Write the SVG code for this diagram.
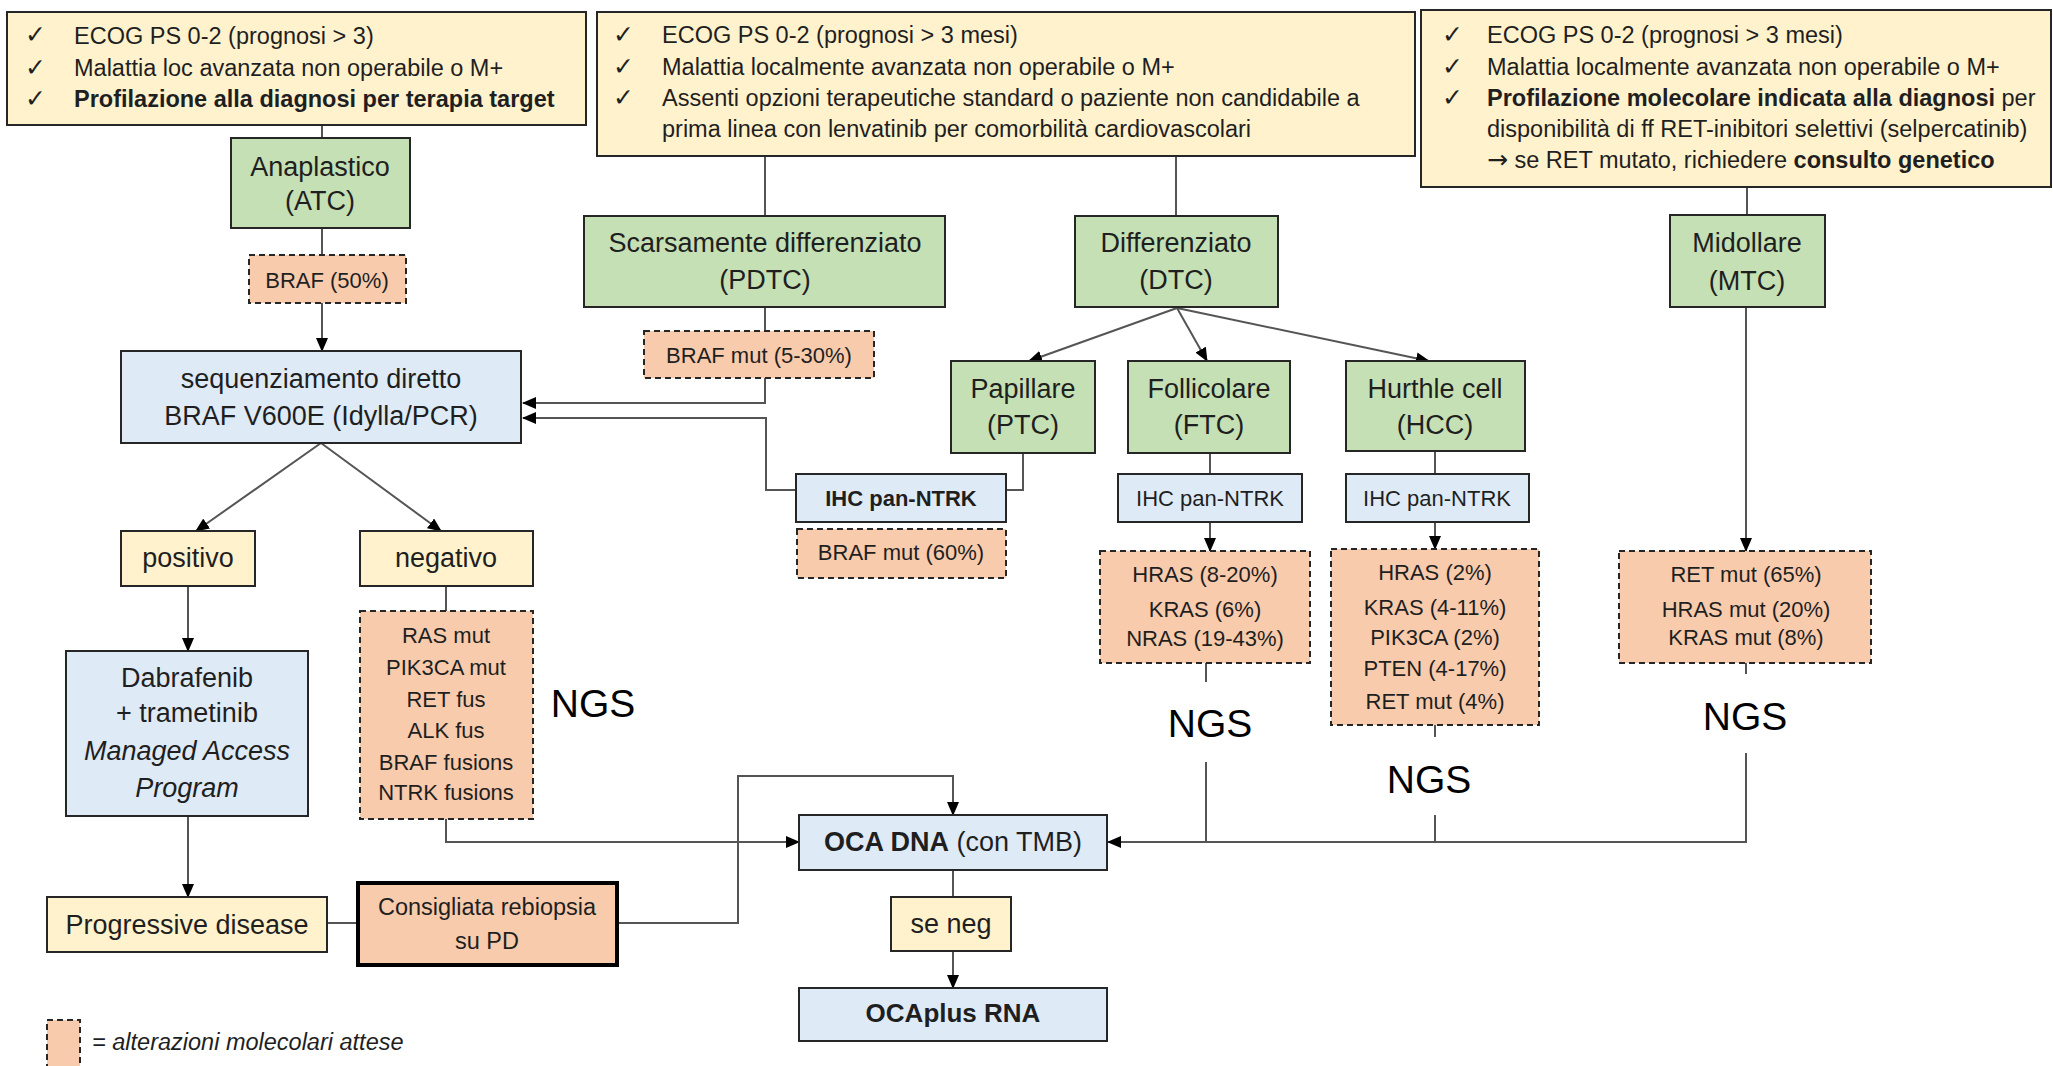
<svg xmlns="http://www.w3.org/2000/svg" width="2053" height="1066" viewBox="0 0 2053 1066">
<defs>
<marker id="arr" markerUnits="userSpaceOnUse" markerWidth="14" markerHeight="12" refX="13" refY="6" orient="auto">
<path d="M0,0 L14,6 L0,12 Z" fill="#000"/>
</marker>
<style>
text{font-family:"Liberation Sans",Arial,sans-serif;fill:#1f1f1f}
.crit{fill:#FFF2CC;stroke:#262626;stroke-width:2}
.green{fill:#C5E0B4;stroke:#262626;stroke-width:2}
.blue{fill:#DEEBF7;stroke:#262626;stroke-width:2}
.yellow{fill:#FFF2CC;stroke:#262626;stroke-width:2}
.dash{fill:#F8CBAD;stroke:#262626;stroke-width:2;stroke-dasharray:6 4}
.thick{fill:#F8CBAD;stroke:#000;stroke-width:4}
.ct{font-size:23.5px}
.ck{font-family:"DejaVu Sans",sans-serif;font-size:25px;font-weight:bold;fill:#1f1f1f}
.ar{font-family:"DejaVu Sans",sans-serif;font-size:25px}
.lg{font-size:27px;text-anchor:middle}
.sm{font-size:22px;text-anchor:middle}
.ngs{font-size:39px;text-anchor:middle;fill:#000}
.b{font-weight:bold}
.i{font-style:italic}
#connectors path,#connectors line{fill:none;stroke:#555;stroke-width:2}
</style>
</defs>

<g id="connectors">
<line x1="322" y1="125" x2="322" y2="138"/>
<line x1="322" y1="228" x2="322" y2="351" marker-end="url(#arr)"/>
<line x1="321" y1="443" x2="196" y2="531" marker-end="url(#arr)"/>
<line x1="321" y1="443" x2="441" y2="531" marker-end="url(#arr)"/>
<line x1="188" y1="586" x2="188" y2="651" marker-end="url(#arr)"/>
<line x1="188" y1="816" x2="188" y2="897" marker-end="url(#arr)"/>
<line x1="446" y1="586" x2="446" y2="611"/>
<path d="M446,819 V842 H799" marker-end="url(#arr)"/>
<line x1="327" y1="923" x2="358" y2="923"/>
<path d="M617,923 H738 V776 H953 V815" marker-end="url(#arr)"/>
<line x1="765" y1="156" x2="765" y2="216"/>
<line x1="1176" y1="156" x2="1176" y2="216"/>
<line x1="765" y1="307" x2="765" y2="331"/>
<path d="M765,378 V403 H523" marker-end="url(#arr)"/>
<path d="M796,490 H766 V418 H523" marker-end="url(#arr)"/>
<path d="M1023,453 V490 H1006"/>
<line x1="1177" y1="308" x2="1029" y2="361" marker-end="url(#arr)"/>
<line x1="1177" y1="308" x2="1207" y2="361" marker-end="url(#arr)"/>
<line x1="1177" y1="308" x2="1429" y2="361" marker-end="url(#arr)"/>
<line x1="1210" y1="453" x2="1210" y2="474"/>
<line x1="1210" y1="522" x2="1210" y2="551" marker-end="url(#arr)"/>
<line x1="1206" y1="663" x2="1206" y2="682"/>
<line x1="1206" y1="762" x2="1206" y2="842"/>
<line x1="1435" y1="451" x2="1435" y2="474"/>
<line x1="1435" y1="522" x2="1435" y2="549" marker-end="url(#arr)"/>
<line x1="1435" y1="725" x2="1435" y2="737"/>
<line x1="1435" y1="815" x2="1435" y2="842"/>
<line x1="1747" y1="187" x2="1747" y2="215"/>
<line x1="1746" y1="307" x2="1746" y2="551" marker-end="url(#arr)"/>
<line x1="1746" y1="663" x2="1746" y2="674"/>
<path d="M1746,753 V842 H1108" marker-end="url(#arr)"/>
<line x1="953" y1="870" x2="953" y2="897"/>
<line x1="953" y1="951" x2="953" y2="988" marker-end="url(#arr)"/>
</g>

<g id="crit-atc">
<rect class="crit" x="7" y="12" width="579" height="113"/>
<text class="ck" x="25" y="43">✓</text>
<text class="ck" x="25" y="76">✓</text>
<text class="ck" x="25" y="107">✓</text>
<text class="ct" x="74" y="44">ECOG PS 0-2 (prognosi &gt; 3)</text>
<text class="ct" x="74" y="76">Malattia loc avanzata non operabile o M+</text>
<text class="ct b" x="74" y="107">Profilazione alla diagnosi per terapia target</text>
</g>

<g id="crit-dtc">
<rect class="crit" x="597" y="12" width="818" height="144"/>
<text class="ck" x="613" y="43">✓</text>
<text class="ck" x="613" y="75">✓</text>
<text class="ck" x="613" y="106">✓</text>
<text class="ct" x="662" y="43">ECOG PS 0-2 (prognosi &gt; 3 mesi)</text>
<text class="ct" x="662" y="75">Malattia localmente avanzata non operabile o M+</text>
<text class="ct" x="662" y="106">Assenti opzioni terapeutiche standard o paziente non candidabile a</text>
<text class="ct" x="662" y="137">prima linea con lenvatinib per comorbilità cardiovascolari</text>
</g>

<g id="crit-mtc">
<rect class="crit" x="1421" y="10" width="630" height="177"/>
<text class="ck" x="1442" y="43">✓</text>
<text class="ck" x="1442" y="75">✓</text>
<text class="ck" x="1442" y="106">✓</text>
<text class="ct" x="1487" y="43">ECOG PS 0-2 (prognosi &gt; 3 mesi)</text>
<text class="ct" x="1487" y="75">Malattia localmente avanzata non operabile o M+</text>
<text class="ct" x="1487" y="106"><tspan class="b">Profilazione molecolare indicata alla diagnosi</tspan> per</text>
<text class="ct" x="1487" y="137">disponibilità di ff RET-inibitori selettivi (selpercatinib)</text>
<text class="ct" x="1487" y="168"><tspan class="ar">→</tspan> se RET mutato, richiedere <tspan class="b">consulto genetico</tspan></text>
</g>

<g id="atc">
<rect class="green" x="231" y="138" width="179" height="90"/>
<text class="lg" x="320" y="176">Anaplastico</text>
<text class="lg" x="320" y="210">(ATC)</text>
</g>
<g id="braf-atc">
<rect class="dash" x="249" y="255" width="157" height="48"/>
<text class="sm" x="327" y="288">BRAF (50%)</text>
</g>

<g id="seq">
<rect class="blue" x="121" y="351" width="400" height="92"/>
<text class="lg" x="321" y="388">sequenziamento diretto</text>
<text class="lg" x="321" y="425">BRAF V600E (Idylla/PCR)</text>
</g>

<g id="positivo">
<rect class="yellow" x="121" y="531" width="134" height="55"/>
<text class="lg" x="188" y="567">positivo</text>
</g>
<g id="negativo">
<rect class="yellow" x="360" y="531" width="173" height="55"/>
<text class="lg" x="446" y="567">negativo</text>
</g>

<g id="dabrafenib">
<rect class="blue" x="66" y="651" width="242" height="165"/>
<text class="lg" x="187" y="687">Dabrafenib</text>
<text class="lg" x="187" y="722">+ trametinib</text>
<text class="lg i" x="187" y="760">Managed Access</text>
<text class="lg i" x="187" y="797">Program</text>
</g>

<g id="ras">
<rect class="dash" x="360" y="611" width="173" height="208"/>
<text class="sm" x="446" y="643">RAS mut</text>
<text class="sm" x="446" y="675">PIK3CA mut</text>
<text class="sm" x="446" y="707">RET fus</text>
<text class="sm" x="446" y="738">ALK fus</text>
<text class="sm" x="446" y="770">BRAF fusions</text>
<text class="sm" x="446" y="800">NTRK fusions</text>
</g>
<text class="ngs" x="593" y="717">NGS</text>

<g id="pd">
<rect class="yellow" x="47" y="897" width="280" height="55"/>
<text class="lg" x="187" y="934">Progressive disease</text>
</g>
<g id="rebiopsia">
<rect class="thick" x="358" y="883" width="259" height="82"/>
<text class="lg" x="487" y="915" style="font-size:23.5px">Consigliata rebiopsia</text>
<text class="lg" x="487" y="949" style="font-size:23.5px">su PD</text>
</g>

<g id="pdtc">
<rect class="green" x="584" y="216" width="361" height="91"/>
<text class="lg" x="765" y="252">Scarsamente differenziato</text>
<text class="lg" x="765" y="289">(PDTC)</text>
</g>
<g id="braf-pdtc">
<rect class="dash" x="644" y="331" width="230" height="47"/>
<text class="sm" x="759" y="363">BRAF mut (5-30%)</text>
</g>

<g id="dtc">
<rect class="green" x="1075" y="216" width="203" height="91"/>
<text class="lg" x="1176" y="252">Differenziato</text>
<text class="lg" x="1176" y="289">(DTC)</text>
</g>

<g id="ptc">
<rect class="green" x="951" y="361" width="144" height="92"/>
<text class="lg" x="1023" y="398">Papillare</text>
<text class="lg" x="1023" y="434">(PTC)</text>
</g>
<g id="ihc-ptc">
<rect class="blue" x="796" y="474" width="210" height="48"/>
<text class="sm b" x="901" y="506">IHC pan-NTRK</text>
</g>
<g id="braf-ptc">
<rect class="dash" x="797" y="529" width="209" height="49"/>
<text class="sm" x="901" y="560">BRAF mut (60%)</text>
</g>

<g id="ftc">
<rect class="green" x="1128" y="361" width="162" height="92"/>
<text class="lg" x="1209" y="398">Follicolare</text>
<text class="lg" x="1209" y="434">(FTC)</text>
</g>
<g id="ihc-ftc">
<rect class="blue" x="1118" y="474" width="184" height="48"/>
<text class="sm" x="1210" y="506">IHC pan-NTRK</text>
</g>
<g id="mut-ftc">
<rect class="dash" x="1100" y="551" width="210" height="112"/>
<text class="sm" x="1205" y="582">HRAS (8-20%)</text>
<text class="sm" x="1205" y="617">KRAS (6%)</text>
<text class="sm" x="1205" y="646">NRAS (19-43%)</text>
</g>
<text class="ngs" x="1210" y="737">NGS</text>

<g id="hcc">
<rect class="green" x="1346" y="361" width="179" height="90"/>
<text class="lg" x="1435" y="398">Hurthle cell</text>
<text class="lg" x="1435" y="434">(HCC)</text>
</g>
<g id="ihc-hcc">
<rect class="blue" x="1346" y="474" width="183" height="48"/>
<text class="sm" x="1437" y="506">IHC pan-NTRK</text>
</g>
<g id="mut-hcc">
<rect class="dash" x="1331" y="549" width="208" height="176"/>
<text class="sm" x="1435" y="580">HRAS (2%)</text>
<text class="sm" x="1435" y="615">KRAS (4-11%)</text>
<text class="sm" x="1435" y="645">PIK3CA (2%)</text>
<text class="sm" x="1435" y="676">PTEN (4-17%)</text>
<text class="sm" x="1435" y="709">RET mut (4%)</text>
</g>
<text class="ngs" x="1429" y="793">NGS</text>

<g id="mtc">
<rect class="green" x="1670" y="215" width="155" height="92"/>
<text class="lg" x="1747" y="252">Midollare</text>
<text class="lg" x="1747" y="290">(MTC)</text>
</g>
<g id="mut-mtc">
<rect class="dash" x="1619" y="551" width="252" height="112"/>
<text class="sm" x="1746" y="582">RET mut (65%)</text>
<text class="sm" x="1746" y="617">HRAS mut (20%)</text>
<text class="sm" x="1746" y="645">KRAS mut (8%)</text>
</g>
<text class="ngs" x="1745" y="730">NGS</text>

<g id="oca-dna">
<rect class="blue" x="799" y="815" width="308" height="55"/>
<text class="lg" x="953" y="851"><tspan class="b">OCA DNA</tspan> (con TMB)</text>
</g>
<g id="se-neg">
<rect class="yellow" x="891" y="897" width="120" height="54"/>
<text class="lg" x="951" y="933">se neg</text>
</g>
<g id="ocaplus">
<rect class="blue" x="799" y="988" width="308" height="53"/>
<text class="lg b" x="953" y="1022" style="font-size:26px">OCAplus RNA</text>
</g>

<g id="legend">
<rect class="dash" x="47" y="1020" width="33" height="52"/>
<text class="i" x="92" y="1050" style="font-size:23.5px">= alterazioni molecolari attese</text>
</g>
</svg>
